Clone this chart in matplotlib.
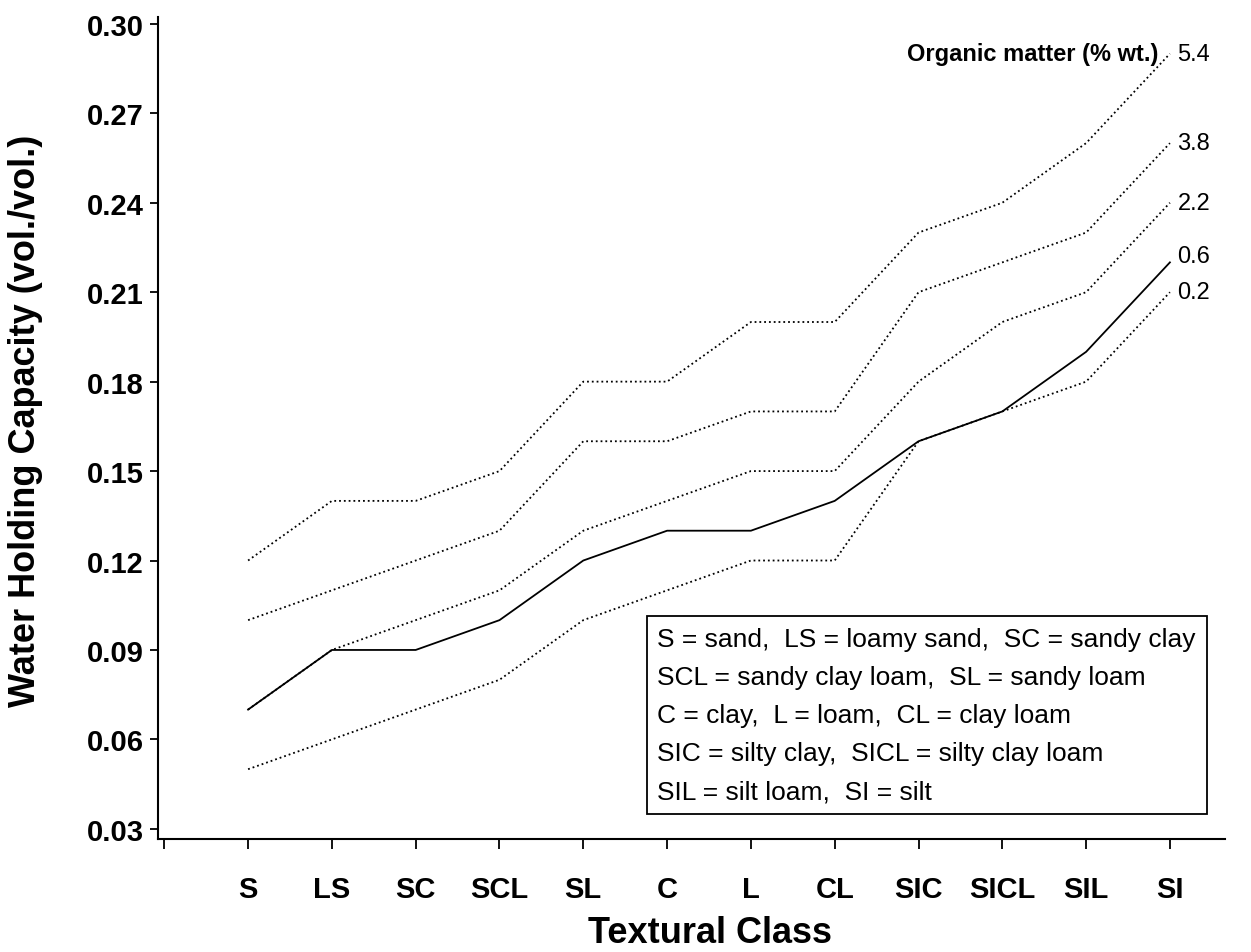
import matplotlib
matplotlib.use("Agg")
import matplotlib.pyplot as plt
import numpy as np

plt.rcParams['font.family'] = ['Liberation Sans', 'DejaVu Sans']

classes = ['S', 'LS', 'SC', 'SCL', 'SL', 'C', 'L', 'CL', 'SIC', 'SICL', 'SIL', 'SI']

# water holding capacity for each organic matter content (% wt.)
om_54 = [0.12, 0.14, 0.14, 0.15, 0.18, 0.18, 0.20, 0.20, 0.23, 0.24, 0.26, 0.29]
om_38 = [0.10, 0.11, 0.12, 0.13, 0.16, 0.16, 0.17, 0.17, 0.21, 0.22, 0.23, 0.26]
om_22 = [0.07, 0.09, 0.10, 0.11, 0.13, 0.14, 0.15, 0.15, 0.18, 0.20, 0.21, 0.24]
om_06 = [0.07, 0.09, 0.09, 0.10, 0.12, 0.13, 0.13, 0.14, 0.16, 0.17, 0.19, 0.22]
om_02 = [0.05, 0.06, 0.07, 0.08, 0.10, 0.11, 0.12, 0.12, 0.16, 0.17, 0.18, 0.21]

om_labels = ['5.4', '3.8', '2.2', '0.6', '0.2']
yticks = [0.03, 0.06, 0.09, 0.12, 0.15, 0.18, 0.21, 0.24, 0.27, 0.30]

legend_lines = [
    'S = sand,  LS = loamy sand,  SC = sandy clay',
    'SCL = sandy clay loam,  SL = sandy loam',
    'C = clay,  L = loam,  CL = clay loam',
    'SIC = silty clay,  SICL = silty clay loam',
    'SIL = silt loam,  SI = silt',
]

fig = plt.figure(figsize=(12.51, 9.53), dpi=100)
ax = fig.add_axes([0.1263, 0.1186, 0.8531, 0.8625])

x = np.arange(1, len(classes) + 1)
series = [om_54, om_38, om_22, om_06, om_02]
styles = [':', ':', ':', '-', ':']
for vals, ls in zip(series, styles):
    ax.plot(x, vals, color='black', linestyle=ls, linewidth=1.3)

# value labels at the right end of the lines
label_dy = [0.0, 0.0, 0.0, 0.002, 0.0]
for vals, lab, dy in zip(series, om_labels, label_dy):
    ax.text(x[-1] + 0.09, vals[-1] + dy, lab, fontsize=17, va='center', ha='left')
ax.text(x[-1] - 0.14, om_54[-1], 'Organic matter (% wt.)', fontsize=17,
        fontweight='bold', va='center', ha='right')

ax.set_xlim(-0.075, 12.66)
ax.set_ylim(0.0266, 0.3023)
ax.set_xticks(np.arange(0, len(classes) + 1))
ax.set_xticklabels([''] + classes, fontsize=21, fontweight='bold')
ax.set_yticks(yticks)
ax.set_yticklabels(['%.2f' % v for v in yticks], fontsize=21, fontweight='bold')
ax.tick_params(axis='x', direction='out', length=7, width=1.3, pad=19)
ax.tick_params(axis='y', direction='out', length=6, width=1.3, pad=4)

for s in ['top', 'right']:
    ax.spines[s].set_visible(False)
for s in ['left', 'bottom']:
    ax.spines[s].set_linewidth(1.5)

ax.set_xlabel('Textural Class', fontsize=26, fontweight='bold')
ax.xaxis.set_label_coords(0.5175, -0.093)
ax.set_ylabel('Water Holding Capacity (vol./vol.)', fontsize=26, fontweight='bold')
ax.yaxis.set_label_coords(-0.108, 0.51)

ax.text(0.468, 0.258, '\n'.join(legend_lines), transform=ax.transAxes,
        fontsize=19, va='top', ha='left', linespacing=1.74,
        bbox=dict(boxstyle='square,pad=0.4', facecolor='white',
                  edgecolor='black', linewidth=1.3))

fig.savefig('out.png', dpi=100)
